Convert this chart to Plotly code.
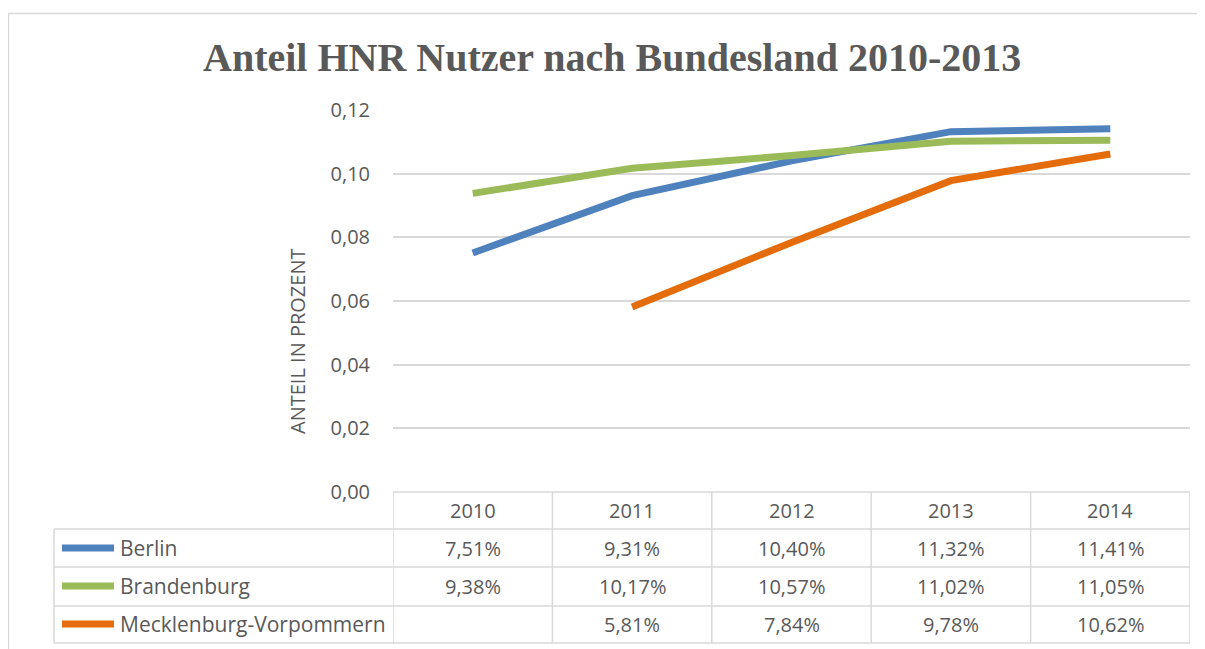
import plotly.graph_objects as go

years = ["2010", "2011", "2012", "2013", "2014"]
berlin = [0.0751, 0.0931, 0.1040, 0.1132, 0.1141]
brandenburg = [0.0938, 0.1017, 0.1057, 0.1102, 0.1105]
mv = [None, 0.0581, 0.0784, 0.0978, 0.1062]
series_names = ["Berlin", "Brandenburg", "Mecklenburg-Vorpommern"]
series_values = [berlin, brandenburg, mv]
series_colors = ["#4F81BD", "#9BBB59", "#E46C0A"]
y_ticks = [0, 0.02, 0.04, 0.06, 0.08, 0.10, 0.12]

W, H = 1205, 649
OFF = 8  # page body margin
TXT = "#595959"
GRID = "#D9D9D9"
FONT = "Open Sans"


def px(x):
    return (x - OFF) / W


def py(y):
    return 1 - (y - OFF) / H


fig = go.Figure()
idx = list(range(len(years)))
for name, vals, col in zip(series_names, series_values, series_colors):
    fig.add_trace(go.Scatter(x=idx, y=vals, mode="lines", name=name,
                             line=dict(color=col, width=7), connectgaps=False,
                             showlegend=False))

shapes = []
annotations = []

# outer border
shapes.append(dict(type="rect", xref="paper", yref="paper", x0=px(8.5), x1=px(1200), y0=py(13.5), y1=-0.05,
                   line=dict(color=GRID, width=1.5)))

# table geometry (pixels)
row_lines = [529, 567, 606, 643]
row_centers = [510, 548, 586, 624]
table_top = 492
left_x = 54

for yl in row_lines:
    shapes.append(dict(type="line", xref="paper", yref="paper", x0=px(left_x), x1=px(1190), y0=py(yl), y1=py(yl),
                       line=dict(color=GRID, width=1.5)))
shapes.append(dict(type="line", xref="x", yref="paper", x0=-0.5, x1=len(years) - 0.5, y0=py(table_top), y1=py(table_top),
                   line=dict(color=GRID, width=1.5)))
for i in range(len(years) + 1):
    shapes.append(dict(type="line", xref="x", yref="paper", x0=i - 0.5, x1=i - 0.5, y0=py(table_top), y1=py(643),
                       line=dict(color=GRID, width=1.5)))
shapes.append(dict(type="line", xref="paper", yref="paper", x0=px(left_x), x1=px(left_x), y0=py(529), y1=py(643),
                   line=dict(color=GRID, width=1.5)))

for i, yr in enumerate(years):
    annotations.append(dict(x=i, y=py(row_centers[0]), xref="x", yref="paper", text=yr, showarrow=False,
                            font=dict(family=FONT, size=20, color=TXT), xanchor="center", yanchor="middle"))


def fmt(v):
    return ("%.2f%%" % (v * 100)).replace(".", ",")


for r, (name, vals, col) in enumerate(zip(series_names, series_values, series_colors)):
    yc = row_centers[r + 1]
    shapes.append(dict(type="line", xref="paper", yref="paper", x0=px(62), x1=px(114), y0=py(yc), y1=py(yc),
                       line=dict(color=col, width=7)))
    annotations.append(dict(x=px(118), y=py(yc), xref="paper", yref="paper", text=name, showarrow=False,
                            font=dict(family=FONT, size=21, color=TXT), xanchor="left", yanchor="middle"))
    for i, v in enumerate(vals):
        if v is None:
            continue
        annotations.append(dict(x=i, y=py(yc), xref="x", yref="paper", text=fmt(v), showarrow=False,
                                font=dict(family=FONT, size=20, color=TXT), xanchor="center", yanchor="middle"))

annotations.append(dict(x=px(612), y=py(57), xref="paper", yref="paper",
                        text="<b>Anteil HNR Nutzer nach Bundesland 2010-2013</b>", showarrow=False,
                        font=dict(family="Liberation Serif", size=40, color=TXT), xanchor="center", yanchor="middle"))
annotations.append(dict(x=px(297), y=py(342), xref="paper", yref="paper", text="ANTEIL IN PROZENT",
                        showarrow=False, textangle=-90,
                        font=dict(family=FONT, size=20, color=TXT), xanchor="center", yanchor="middle"))

fig.update_layout(
    width=W, height=H,
    margin=dict(l=0, r=0, t=0, b=0, pad=0),
    paper_bgcolor="white", plot_bgcolor="white",
    separators=",.",
    shapes=shapes, annotations=annotations,
    xaxis=dict(domain=[px(393), px(1190)], range=[-0.5, len(years) - 0.5], showticklabels=False,
               showgrid=False, zeroline=False, showline=False, fixedrange=True, automargin=False),
    yaxis=dict(domain=[py(492), py(110)], range=[0, 0.12], tickvals=y_ticks, tickformat=".2f",
               showgrid=True, gridcolor=GRID, gridwidth=1.5, zeroline=False, showline=False,
               ticks="", ticklabelstandoff=22, automargin=False,
               tickfont=dict(family=FONT, size=20, color=TXT)),
)

fig.write_html("out.html")
